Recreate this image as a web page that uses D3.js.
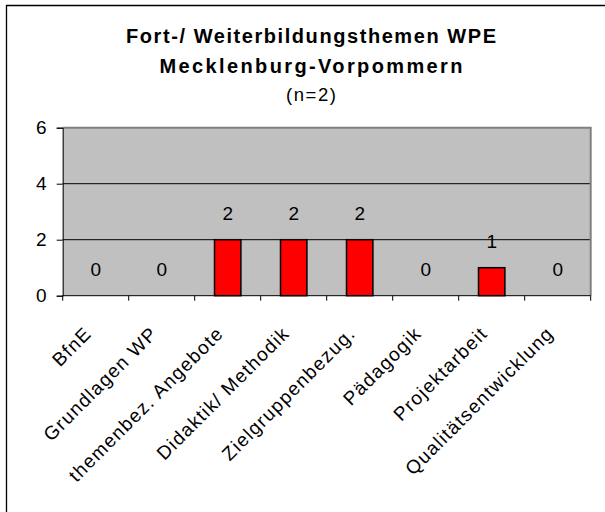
<!DOCTYPE html>
<html>
<head>
<meta charset="utf-8">
<script src="https://cdn.jsdelivr.net/npm/d3@7/dist/d3.min.js"></script>
<style>
  html, body { margin: 0; padding: 0; background: #fff; }
  svg { display: block; font-family: "Liberation Sans", Arial, sans-serif; }
</style>
</head>
<body>
<div id="chart"></div>
<script>
// data
const categories = ['BfnE', 'Grundlagen WP', 'themenbez. Angebote', 'Didaktik/ Methodik',
    'Zielgruppenbezug.', 'Pädagogik', 'Projektarbeit', 'Qualitätsentwicklung'];
const values = [0, 0, 2, 2, 2, 0, 1, 0];
const yTicks = [0, 2, 4, 6];
const titleLines = ['Fort-/ Weiterbildungsthemen WPE', 'Mecklenburg-Vorpommern'];
const subtitle = '(n=2)';

const width = 605, height = 512;
const margin = { left: 62.7, right: 14.3, top: 127.7, bottom: 216.3 };
const innerW = width - margin.left - margin.right;
const innerH = height - margin.top - margin.bottom;

const svg = d3.select('#chart').append('svg')
    .attr('width', width)
    .attr('height', height);

// outer chart frame (only top & left edges fall inside the picture)
svg.append('path')
    .attr('d', `M6.5,${height} V5.5 H${width}`)
    .attr('fill', 'none')
    .attr('stroke', '#000')
    .attr('stroke-width', 1.3);

// titles (Excel renders them widely spaced)
const titleX = 311;
const titleLen = [370, 303];
svg.selectAll('.title')
    .data(titleLines)
    .enter().append('text')
    .attr('class', 'title')
    .attr('x', titleX)
    .attr('y', (d, i) => 43.3 + i * 29.7)
    .attr('text-anchor', 'middle')
    .attr('font-size', 20)
    .attr('font-weight', 'bold')
    .attr('fill', '#000')
    .attr('textLength', (d, i) => titleLen[i])
    .attr('lengthAdjust', 'spacing')
    .text(d => d);

svg.append('text')
    .attr('x', titleX)
    .attr('y', 101)
    .attr('text-anchor', 'middle')
    .attr('font-size', 18.5)
    .attr('fill', '#000')
    .attr('textLength', 50)
    .attr('lengthAdjust', 'spacing')
    .text(subtitle);

const g = svg.append('g')
    .attr('transform', `translate(${margin.left},${margin.top})`);

const x = d3.scaleBand()
    .domain(categories)
    .range([0, innerW])
    .paddingInner(0.6)
    .paddingOuter(0.3);

const y = d3.scaleLinear()
    .domain([0, 6])
    .range([innerH, 0]);

// plot area
g.append('rect')
    .attr('width', innerW)
    .attr('height', innerH)
    .attr('fill', '#c0c0c0');

// gridlines
g.selectAll('.grid')
    .data(yTicks.filter(d => d > 0 && d < 6))
    .enter().append('line')
    .attr('class', 'grid')
    .attr('x1', 0).attr('x2', innerW)
    .attr('y1', d => y(d)).attr('y2', d => y(d))
    .attr('stroke', '#000')
    .attr('stroke-width', 1);

// plot border top / right
g.append('path')
    .attr('d', `M0,${y(6)} H${innerW} V${innerH}`)
    .attr('fill', 'none')
    .attr('stroke', '#808080')
    .attr('stroke-width', 2);

// bars
g.selectAll('.bar')
    .data(values)
    .enter().append('rect')
    .attr('class', 'bar')
    .attr('x', (d, i) => x(categories[i]))
    .attr('width', x.bandwidth())
    .attr('y', d => y(d))
    .attr('height', d => innerH - y(d))
    .attr('fill', d => d > 0 ? '#ff0000' : 'none')
    .attr('stroke', d => d > 0 ? '#000' : 'none')
    .attr('stroke-width', 1.5);

// value labels
g.selectAll('.val')
    .data(values)
    .enter().append('text')
    .attr('class', 'val')
    .attr('x', (d, i) => x(categories[i]) + x.bandwidth() / 2)
    .attr('y', d => y(d) - 20)
    .attr('text-anchor', 'middle')
    .attr('font-size', 19)
    .attr('fill', '#000')
    .text(d => d);

// axes
const band = innerW / categories.length;
const yAxis = d3.axisLeft(y).tickValues(yTicks).tickFormat(d3.format('d')).tickSize(6).tickPadding(10);
const yAxisG = g.append('g').call(yAxis);
yAxisG.select('.domain').attr('stroke', '#000');
yAxisG.selectAll('text').attr('font-size', 19).attr('fill', '#000')
    .attr('font-family', '"Liberation Sans", Arial, sans-serif');

const xAxisG = g.append('g').attr('transform', `translate(0,${innerH})`);
xAxisG.append('line')
    .attr('x1', 0).attr('x2', innerW)
    .attr('stroke', '#000');
xAxisG.selectAll('.tick')
    .data(d3.range(categories.length + 1))
    .enter().append('line')
    .attr('x1', i => i * band).attr('x2', i => i * band)
    .attr('y1', 0).attr('y2', 5)
    .attr('stroke', '#000');

xAxisG.selectAll('.xlabel')
    .data(categories)
    .enter().append('text')
    .attr('class', 'xlabel')
    .attr('text-anchor', 'end')
    .attr('font-size', 19)
    .attr('letter-spacing', 1.3)
    .attr('fill', '#000')
    .attr('transform', d => `translate(${x(d) + x.bandwidth() / 2 - 3},${39}) rotate(-45)`)
    .text(d => d);
</script>
</body>
</html>
